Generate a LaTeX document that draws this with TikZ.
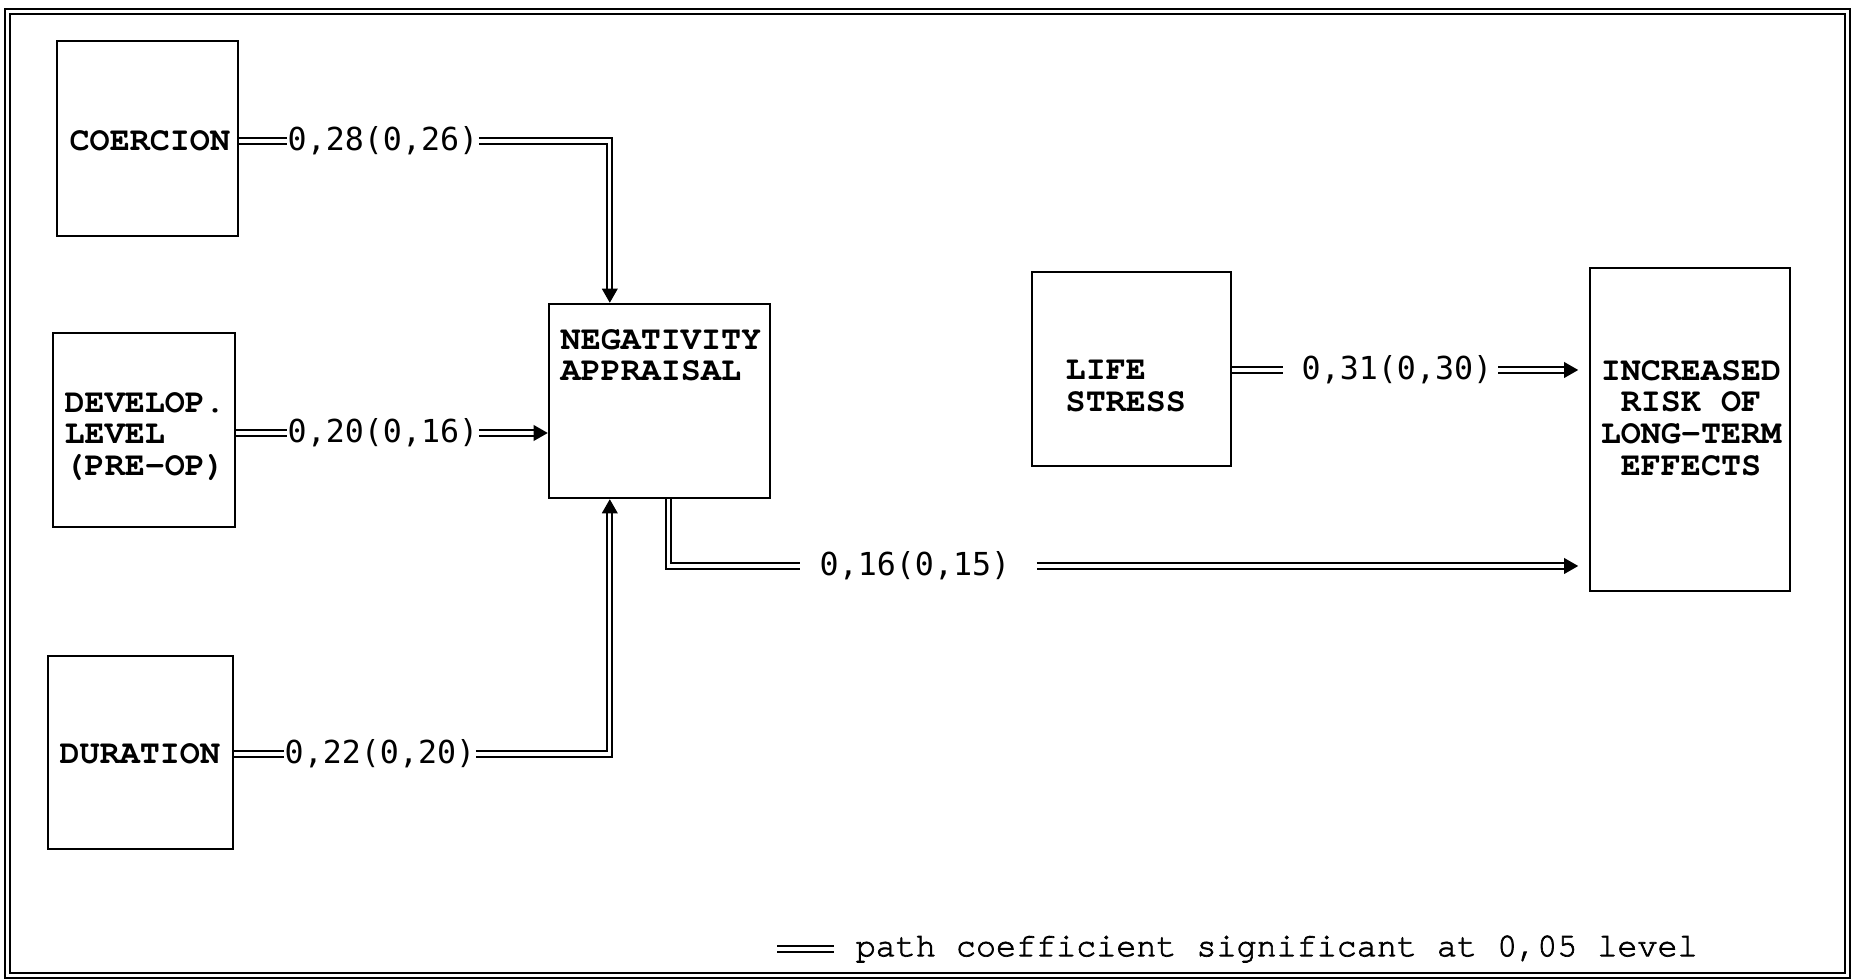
\documentclass[tikz,border=0pt]{standalone}
\usepackage{fontspec}
\usetikzlibrary{arrows.meta,calc}
\newfontfamily\numfont{DejaVu Sans Mono}
\newfontfamily\lgdfont{texgyrecursor-regular.otf}[FakeBold=2,Ligatures={NoCommon,NoRare,TeXOff}]
\newcommand{\courbold}{\fontencoding{T1}\fontfamily{pcr}\fontseries{b}\selectfont}
\tikzset{
  box/.style={draw, line width=0.65pt, inner sep=0pt, rectangle},
  boxtext/.style={font=\courbold\fontsize{9.5}{9}\selectfont, inner sep=0pt, align=left},
  coef/.style={font=\numfont\fontsize{9}{10}\selectfont, inner sep=0pt, anchor=west},
  lgd/.style={font=\lgdfont\bfseries\fontsize{9.5}{10}\selectfont, inner sep=0pt, anchor=west},
  dbl/.style={draw, line width=0.6pt, double, double distance=0.9pt},
  arr/.style={-{Triangle[length=4pt,width=4.4pt]}},
  frame/.style={draw, line width=0.8pt},
}
\begin{document}
\begin{tikzpicture}[x=0.01cm,y=-0.01cm]
\useasboundingbox (0,0) rectangle (1854,980);
% frame
\draw[frame] (5,9) rectangle (1850,978);
\draw[frame, line width=0.6pt] (10,14) rectangle (1845,973);

% boxes
\node[box, minimum width=1.81cm, minimum height=1.95cm] (coe) at (147.5,138.5) {};
\node[box, minimum width=1.82cm, minimum height=1.94cm] (dev) at (144,430) {};
\node[box, minimum width=1.85cm, minimum height=1.93cm] (dur) at (140.5,752.5) {};
\node[box, minimum width=2.21cm, minimum height=1.94cm] (neg) at (659.5,401) {};
\node[box, minimum width=1.99cm, minimum height=1.94cm] (ls) at (1131.5,369) {};
\node[box, minimum width=2.00cm, minimum height=3.23cm] (inc) at (1690,429.5) {};

% box texts
\node[boxtext, anchor=west] (coeT) at (69,141) {COERCION};
\node[boxtext, anchor=north west] (devT) at (64,391.5) {DEVELOP.\\LEVEL\\(PRE-OP)};
\node[boxtext, anchor=west] (durT) at (59,754) {DURATION};
\node[boxtext, anchor=north west] (negT) at (560,328.5) {NEGATIVITY\\APPRAISAL};
\node[boxtext, anchor=north west] (lsT) at (1065,360.5) {LIFE\\STRESS};
\node[boxtext, anchor=north, align=center] (incT) at (1691,359.5) {INCREASED\\RISK OF\\LONG-TERM\\EFFECTS};

% coefficient labels
\node[coef] (l1) at (287,141) {0,28(0,26)};
\node[coef] (l2) at (287,433) {0,20(0,16)};
\node[coef] (l3) at (284,754) {0,22(0,20)};
\node[coef] (l4) at (819,566) {0,16(0,15)};
\node[coef] (l5) at (1301,370) {0,31(0,30)};

% connectors
\draw[dbl] (coe.east |- l1.west) -- (l1.west);
\draw[dbl, arr] (l1.east) -| ($(neg.north west)+(62,0)$);

\draw[dbl] (dev.east |- l2.west) -- (l2.west);
\draw[dbl, arr] (l2.east) -- (neg.west |- l2.east);

\draw[dbl] (dur.east |- l3.west) -- (l3.west);
\draw[dbl, arr] (l3.east) -| ($(neg.south west)+(62,0)$);

\draw[dbl, shorten >=5.4pt] ($(neg.south west)+(121,0)$) |- (l4.west);
\draw[dbl, arr, shorten <=7.4pt, shorten >=3pt] (l4.east) -- (inc.west |- l4.east);

\draw[dbl, shorten >=5pt] (ls.east |- l5.west) -- (l5.west);
\draw[dbl, arr, shorten <=1.5pt, shorten >=3pt] (l5.east) -- (inc.west |- l5.east);

% legend
\coordinate (lgs) at (777,949);
\node[lgd] (lg) at (855,949) {path coefficient significant at 0,05 level};
\draw[dbl, shorten >=6pt] (lgs) -- (lg.west);
\end{tikzpicture}
\end{document}
